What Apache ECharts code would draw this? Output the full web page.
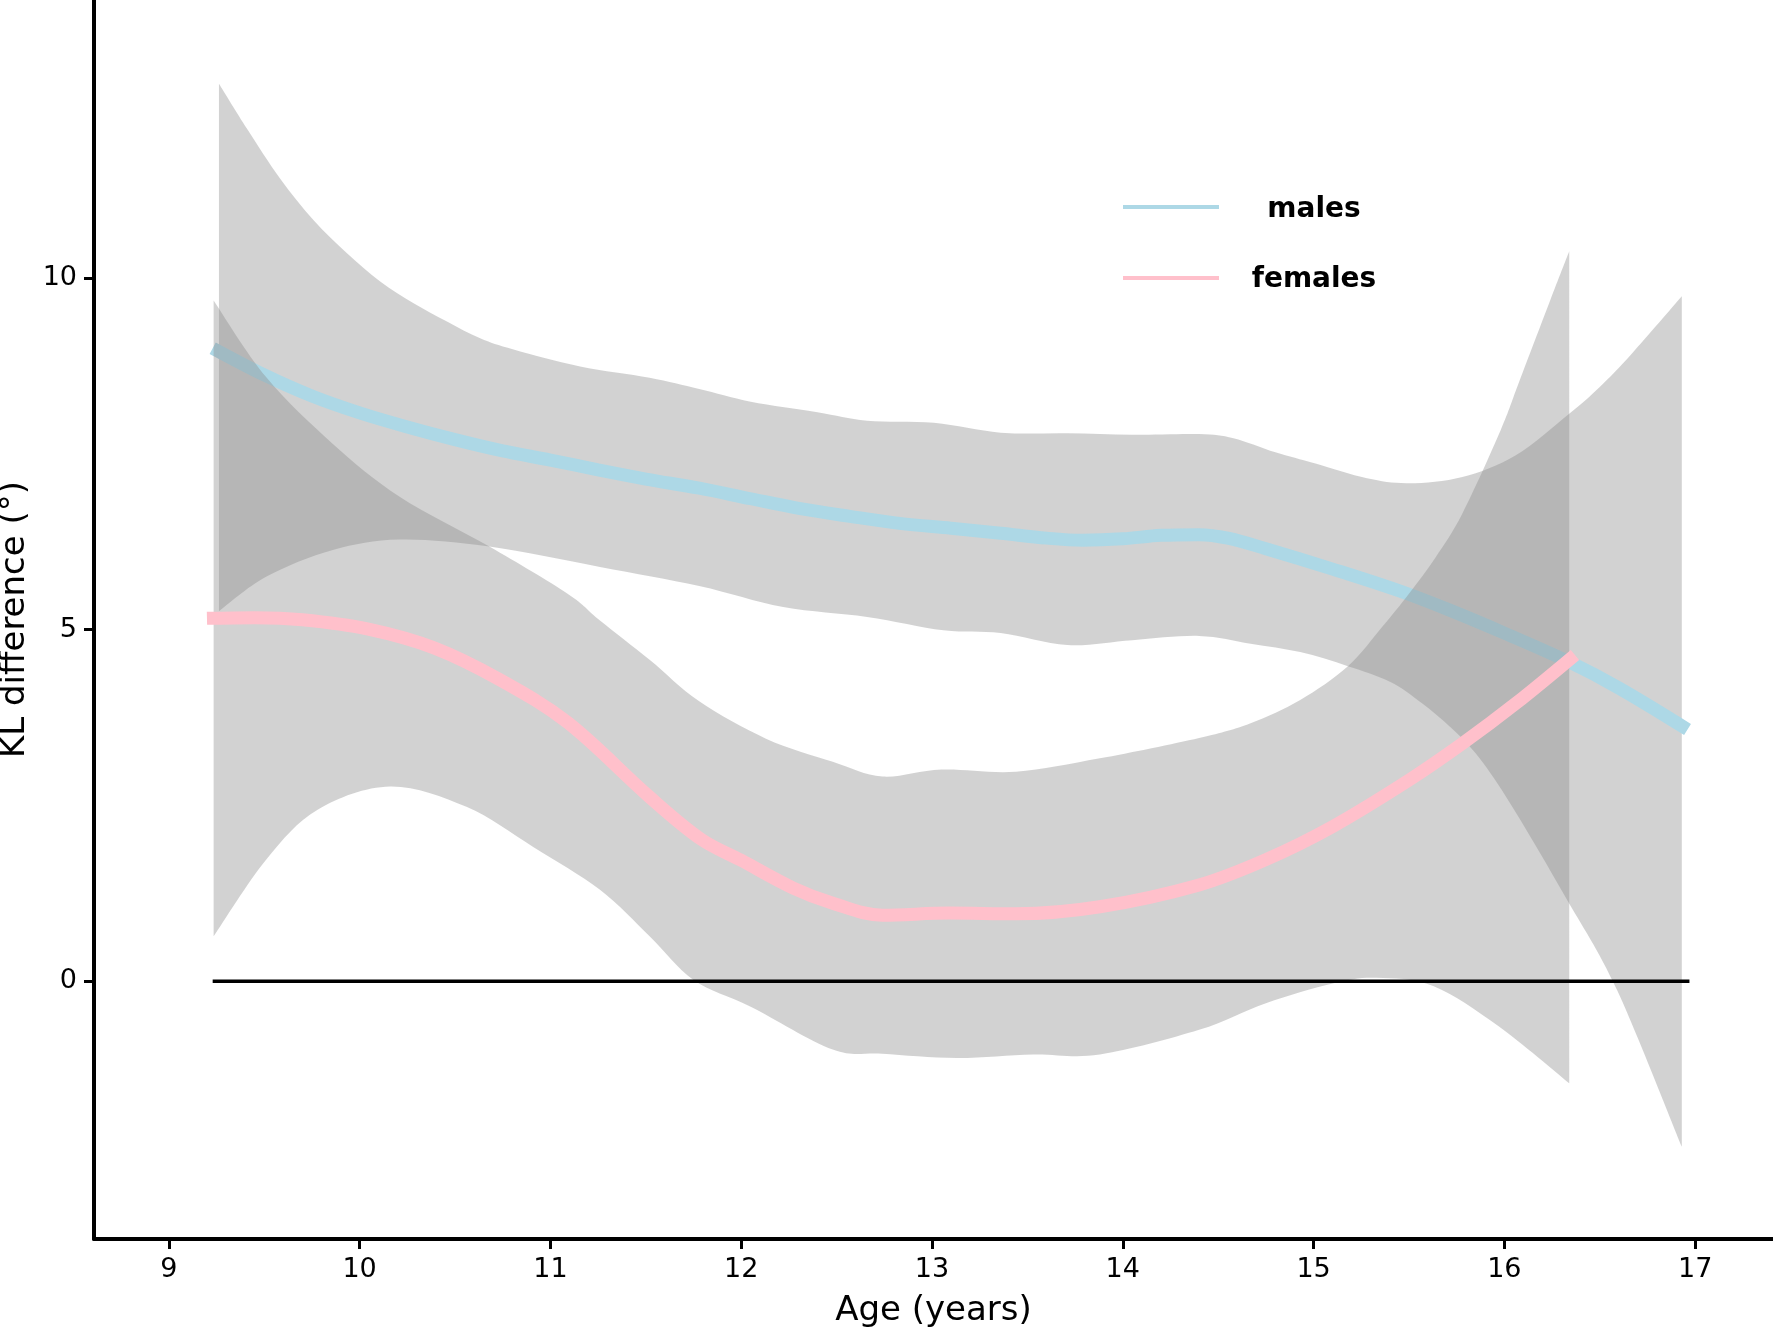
<!DOCTYPE html>
<html><head><meta charset="utf-8">
<script src="https://cdn.jsdelivr.net/npm/echarts@6/dist/echarts.min.js"></script>
<style>html,body{margin:0;padding:0;background:#fff}#c{width:1773px;height:1328px}</style>
</head><body><div id="c"></div>
<script>
// ---- data ----
const xTicks = [9, 10, 11, 12, 13, 14, 15, 16, 17];
const yTicks = [0, 5, 10];
const legendNames = ['males', 'females'];

const maleX = [9.23, 9.5, 9.75, 10.0, 10.25, 10.5, 10.75, 11.0, 11.25, 11.5, 11.78, 12.05, 12.31, 12.57, 12.83, 13.1, 13.36, 13.6, 13.79, 14.0, 14.2, 14.4, 14.55, 14.75, 15.1, 15.45, 15.71, 16.0, 16.34, 16.6, 16.96];
const maleY = [9.00, 8.62, 8.32, 8.08, 7.88, 7.70, 7.54, 7.41, 7.27, 7.14, 7.01, 6.86, 6.72, 6.61, 6.51, 6.44, 6.37, 6.30, 6.27, 6.29, 6.34, 6.35, 6.30, 6.15, 5.86, 5.55, 5.28, 4.95, 4.54, 4.17, 3.58];

const maleUpperX = [9.263, 9.41, 9.584, 9.759, 9.934, 10.108, 10.283, 10.458, 10.632, 10.807, 11.156, 11.52, 11.78, 12.05, 12.4, 12.66, 13.01, 13.36, 13.71, 14.05, 14.4, 14.58, 14.8, 15.01, 15.28, 15.5, 15.78, 16.06, 16.34, 16.5, 16.67, 16.93];
const maleUpperY = [12.76, 12.12, 11.41, 10.82, 10.35, 9.95, 9.64, 9.38, 9.14, 8.98, 8.74, 8.58, 8.42, 8.24, 8.09, 7.97, 7.94, 7.80, 7.79, 7.77, 7.78, 7.72, 7.52, 7.36, 7.15, 7.08, 7.17, 7.48, 8.07, 8.45, 8.93, 9.74];

const maleLowerX = [9.263, 9.51, 9.86, 10.21, 10.68, 11.26, 11.78, 12.22, 12.66, 13.06, 13.36, 13.71, 14.05, 14.4, 14.67, 14.93, 15.18, 15.4, 15.57, 15.75, 15.89, 16.06, 16.32, 16.59, 16.93];
const maleLowerY = [5.26, 5.75, 6.13, 6.28, 6.18, 5.89, 5.62, 5.32, 5.18, 4.99, 4.95, 4.78, 4.85, 4.91, 4.80, 4.68, 4.48, 4.26, 3.95, 3.53, 3.10, 2.40, 1.20, -0.12, -2.35];

const femaleX = [9.20, 9.45, 9.7, 10.04, 10.39, 10.74, 11.09, 11.52, 11.79, 12.0, 12.27, 12.48, 12.74, 13.09, 13.44, 13.88, 14.4, 14.75, 15.1, 15.5, 15.78, 16.06, 16.37];
const femaleY = [5.16, 5.17, 5.14, 5.01, 4.74, 4.28, 3.68, 2.62, 2.02, 1.72, 1.33, 1.11, 0.94, 0.97, 0.96, 1.06, 1.37, 1.73, 2.20, 2.86, 3.38, 3.95, 4.64];

const femaleUpperX = [9.235, 9.51, 9.86, 10.21, 10.68, 11.09, 11.26, 11.52, 11.78, 12.13, 12.48, 12.74, 13.05, 13.44, 13.88, 14.4, 14.67, 14.93, 15.18, 15.36, 15.5, 15.64, 15.78, 15.98, 16.08, 16.24, 16.34];
const femaleUpperY = [9.68, 8.59, 7.64, 6.89, 6.18, 5.51, 5.13, 4.57, 3.98, 3.45, 3.12, 2.91, 3.01, 2.98, 3.17, 3.46, 3.67, 4.00, 4.48, 5.04, 5.51, 6.03, 6.65, 7.83, 8.54, 9.68, 10.38];

const femaleLowerX = [9.235, 9.51, 9.78, 10.16, 10.56, 10.91, 11.26, 11.52, 11.75, 12.05, 12.48, 12.74, 13.13, 13.53, 13.88, 14.4, 14.75, 15.1, 15.33, 15.63, 15.97, 16.34];
const femaleLowerY = [0.64, 1.73, 2.44, 2.77, 2.48, 1.91, 1.30, 0.64, 0.02, -0.36, -0.97, -1.03, -1.09, -1.04, -1.04, -0.69, -0.31, -0.03, 0.05, -0.07, -0.64, -1.45];

const zeroX = [9.23, 16.97];
const zeroY = [0, 0];

// ---- helpers ----
const FONT = 'DejaVu Sans';
const maleColor = '#ADD8E6';
const femaleColor = '#FFC0CB';
const ribbonFill = 'rgba(140,140,140,0.39)';

function pairs(xs, ys) { return xs.map((x, i) => [x, ys[i]]); }

function spline(pts, first) {
  let d = (first ? 'M' : 'L') + pts[0][0] + ',' + pts[0][1];
  for (let i = 0; i < pts.length - 1; i++) {
    const p0 = pts[Math.max(i - 1, 0)], p1 = pts[i], p2 = pts[i + 1], p3 = pts[Math.min(i + 2, pts.length - 1)];
    const c1 = [p1[0] + (p2[0] - p0[0]) / 6, p1[1] + (p2[1] - p0[1]) / 6];
    const c2 = [p2[0] - (p3[0] - p1[0]) / 6, p2[1] - (p3[1] - p1[1]) / 6];
    d += 'C' + c1[0] + ',' + c1[1] + ',' + c2[0] + ',' + c2[1] + ',' + p2[0] + ',' + p2[1];
  }
  return d;
}

function ribbon(name, upX, upY, loX, loY, z) {
  return {
    type: 'custom', name: name, coordinateSystem: 'cartesian2d', z: z, silent: true,
    data: [[upX[0], upY[0]]],
    renderItem: function (params, api) {
      const up = upX.map((x, i) => api.coord([x, upY[i]]));
      const lo = loX.map((x, i) => api.coord([x, loY[i]])).reverse();
      const d = spline(up, true) + spline(lo, false) + 'Z';
      return { type: 'path', shape: { pathData: d }, style: { fill: ribbonFill, stroke: null } };
    }
  };
}

function curve(name, xs, ys, color, z) {
  return {
    type: 'line', name: name, data: pairs(xs, ys), z: z, smooth: 0.35,
    symbol: 'none', silent: true,
    lineStyle: { color: color, width: 13, cap: 'butt' },
    itemStyle: { color: color }
  };
}

const chart = echarts.init(document.getElementById('c'), null, { renderer: 'canvas' });
chart.setOption({
  animation: false,
  backgroundColor: '#ffffff',
  grid: { left: 94, right: 0, top: 0, bottom: 89, containLabel: false, outerBoundsMode: 'none' },
  xAxis: {
    type: 'value', min: 8.608, max: 17.408,
    name: 'Age (years)', nameLocation: 'middle', nameGap: 55,
    nameTextStyle: { fontFamily: FONT, fontSize: 34, color: '#000' },
    axisLine: { show: true, onZero: false, lineStyle: { color: '#000', width: 4 } },
    axisTick: { show: true, length: 10, customValues: xTicks, lineStyle: { color: '#000', width: 3 } },
    axisLabel: { customValues: xTicks, fontFamily: FONT, fontSize: 27, color: '#000', margin: 17 },
    splitLine: { show: false }
  },
  yAxis: {
    type: 'value', min: -3.663, max: 13.95,
    name: 'KL difference (°)', nameLocation: 'middle', nameGap: 57,
    nameTextStyle: { fontFamily: FONT, fontSize: 34, color: '#000' },
    axisLine: { show: true, onZero: false, lineStyle: { color: '#000', width: 4 } },
    axisTick: { show: true, length: 10, customValues: yTicks, lineStyle: { color: '#000', width: 3 } },
    axisLabel: { customValues: yTicks, fontFamily: FONT, fontSize: 27, color: '#000', margin: 17 },
    splitLine: { show: false }
  },
  series: [
    ribbon('males band', maleUpperX, maleUpperY, maleLowerX, maleLowerY, 1),
    curve(legendNames[0], maleX, maleY, maleColor, 2),
    ribbon('females band', femaleUpperX, femaleUpperY, femaleLowerX, femaleLowerY, 3),
    curve(legendNames[1], femaleX, femaleY, femaleColor, 4),
    {
      type: 'line', name: 'zero', data: pairs(zeroX, zeroY), z: 5, symbol: 'none', silent: true,
      lineStyle: { color: '#000', width: 3.5 }
    }
  ],
  graphic: [
    { type: 'line', shape: { x1: 1123, y1: 207, x2: 1219, y2: 207 }, style: { stroke: maleColor, lineWidth: 4 } },
    { type: 'line', shape: { x1: 1123, y1: 278, x2: 1219, y2: 278 }, style: { stroke: femaleColor, lineWidth: 4 } },
    { type: 'text', x: 1314, y: 210, style: { text: legendNames[0], fill: '#000', font: 'bold 28px "DejaVu Sans"', align: 'center', verticalAlign: 'middle', textAlign: 'center', textVerticalAlign: 'middle' } },
    { type: 'text', x: 1314, y: 280, style: { text: legendNames[1], fill: '#000', font: 'bold 28px "DejaVu Sans"', align: 'center', verticalAlign: 'middle', textAlign: 'center', textVerticalAlign: 'middle' } }
  ]
});
</script>
</body></html>
